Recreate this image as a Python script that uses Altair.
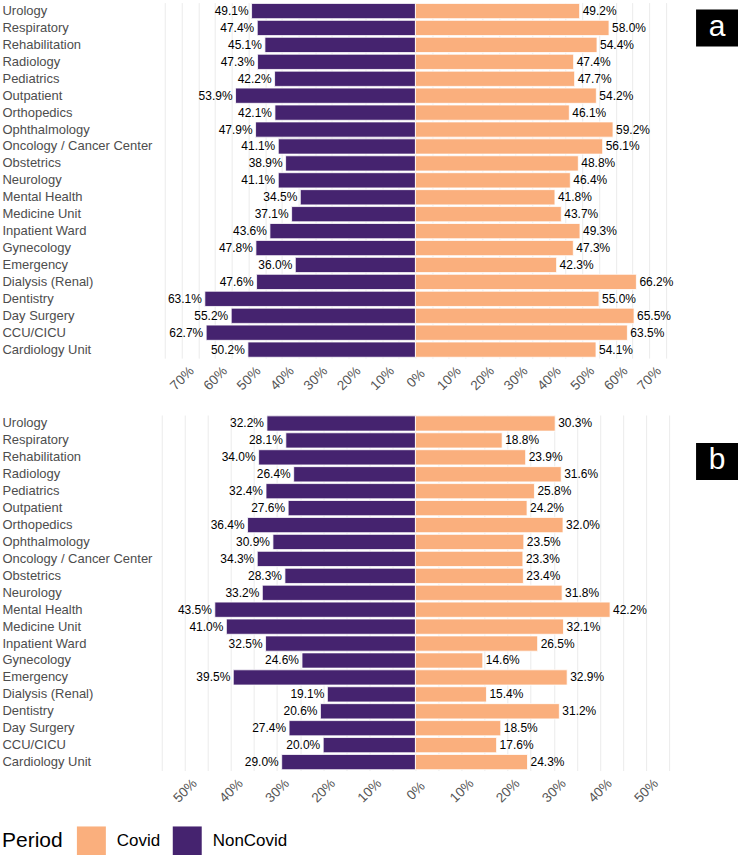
import altair as alt
import pandas as pd

departments = [
    "Urology", "Respiratory", "Rehabilitation", "Radiology", "Pediatrics",
    "Outpatient", "Orthopedics", "Ophthalmology", "Oncology / Cancer Center",
    "Obstetrics", "Neurology", "Mental Health", "Medicine Unit", "Inpatient Ward",
    "Gynecology", "Emergency", "Dialysis (Renal)", "Dentistry", "Day Surgery",
    "CCU/CICU", "Cardiology Unit",
]
a_noncovid = [49.1, 47.4, 45.1, 47.3, 42.2, 53.9, 42.1, 47.9, 41.1, 38.9, 41.1,
              34.5, 37.1, 43.6, 47.8, 36.0, 47.6, 63.1, 55.2, 62.7, 50.2]
a_covid = [49.2, 58.0, 54.4, 47.4, 47.7, 54.2, 46.1, 59.2, 56.1, 48.8, 46.4,
           41.8, 43.7, 49.3, 47.3, 42.3, 66.2, 55.0, 65.5, 63.5, 54.1]
b_noncovid = [32.2, 28.1, 34.0, 26.4, 32.4, 27.6, 36.4, 30.9, 34.3, 28.3, 33.2,
              43.5, 41.0, 32.5, 24.6, 39.5, 19.1, 20.6, 27.4, 20.0, 29.0]
b_covid = [30.3, 18.8, 23.9, 31.6, 25.8, 24.2, 32.0, 23.5, 23.3, 23.4, 31.8,
           42.2, 32.1, 26.5, 14.6, 32.9, 15.4, 31.2, 18.5, 17.6, 24.3]
periods = ["Covid", "NonCovid"]
period_colors = ["#FAAF7D", "#45236F"]
a_ticks = list(range(-75, 80, 5))
b_ticks = list(range(-55, 60, 5))

FONT = "Liberation Sans"
W, H = 508, 356
LEFT = 160


def make_df(noncovid, covid):
    rows = []
    for d, n, c in zip(departments, noncovid, covid):
        rows.append({"Department": d, "Period": "NonCovid", "value": n})
        rows.append({"Department": d, "Period": "Covid", "value": c})
    return pd.DataFrame(rows)


def panel(df, lim, ticks, letter, box_top, show_legend):
    base = alt.Chart(df).transform_calculate(
        signed="datum.Period == 'NonCovid' ? -datum.value : datum.value",
        label="format(datum.value, '.1f') + '%'",
    )
    y = alt.Y(
        "Department:N", sort=departments, title=None,
        scale=alt.Scale(paddingInner=0.1, paddingOuter=0.05),
        axis=alt.Axis(labelAlign="left", labelPadding=LEFT, domain=False, ticks=False,
                      labelFontSize=13, labelColor="#4d4d4d", labelFont=FONT, grid=False),
    )
    x = alt.X(
        "signed:Q", title=None,
        scale=alt.Scale(domain=[-lim, lim], nice=False, zero=False),
        axis=alt.Axis(
            values=ticks,
            labelExpr="abs(datum.value) % 10 == 0 ? abs(datum.value) + '%' : ''",
            labelAngle=315, labelAlign="center", labelBaseline="middle",
            labelPadding=20, labelFontSize=13.5, labelColor="#555555", labelFont=FONT,
            domain=False, ticks=False, grid=True, gridColor="#ebebeb", gridWidth=1,
            labelOverlap=False,
        ),
    )
    color_kwargs = dict(scale=alt.Scale(domain=periods, range=period_colors))
    if show_legend:
        color_kwargs["legend"] = alt.Legend(
            orient="none", legendX=-LEFT, legendY=825, direction="horizontal",
            titleOrient="left", title="Period", titleFontSize=21,
            titleFontWeight="normal", titleFont=FONT, titleColor="black",
            titlePadding=14, labelFontSize=17, labelFont=FONT, labelColor="black",
            symbolType="square", symbolSize=841, symbolStrokeWidth=0,
            labelOffset=11, columnPadding=12,
        )
    else:
        color_kwargs["legend"] = None
    bars = base.mark_bar(stroke="white", strokeWidth=0.8).encode(
        x=x, x2=alt.datum(0), y=y,
        color=alt.Color("Period:N", **color_kwargs),
    )
    txt_left = base.transform_filter("datum.Period == 'NonCovid'").mark_text(
        align="right", baseline="middle", dx=-3, fontSize=12, font=FONT, color="black"
    ).encode(x=x, y=y, text="label:N")
    txt_right = base.transform_filter("datum.Period == 'Covid'").mark_text(
        align="left", baseline="middle", dx=3, fontSize=12, font=FONT, color="black"
    ).encode(x=x, y=y, text="label:N")
    tag_df = pd.DataFrame({"tag": [letter]})
    box = alt.Chart(tag_df).mark_rect(color="black").encode(
        x=alt.value(535), x2=alt.value(577),
        y=alt.value(box_top), y2=alt.value(box_top + 37),
    )
    box_txt = alt.Chart(tag_df).mark_text(
        color="white", fontSize=30, font=FONT, align="center", baseline="middle"
    ).encode(x=alt.value(556), y=alt.value(box_top + 17), text="tag:N")
    return alt.layer(bars, txt_left, txt_right, box, box_txt).properties(width=W, height=H)


top = panel(make_df(a_noncovid, a_covid), 76, a_ticks, "a", 7, True)
bottom = panel(make_df(b_noncovid, b_covid), 55, b_ticks, "b", 28, False)

chart = alt.vconcat(top, bottom, spacing=22).resolve_scale(
    x="independent"
).resolve_axis(x="independent").properties(
    padding={"left": 2, "top": 2, "right": 2, "bottom": 0},
    background="white",
).configure_view(stroke=None)

chart.save("out.html", embed_options={"renderer": "svg", "actions": False})
